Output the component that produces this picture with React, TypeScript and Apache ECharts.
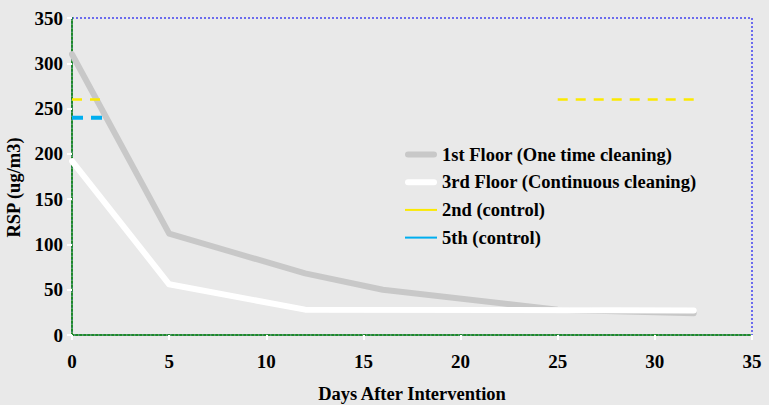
import React, { useEffect, useRef } from "react";
import * as echarts from "echarts";

// Data
const floor1Days = [0, 5, 12, 16, 25, 32];
const floor1Values = [310, 112, 68, 50, 28, 24];

const floor3Days = [0, 5, 12, 32];
const floor3Values = [192, 56, 28, 27];

// null marks a gap in the dashed control lines
const control2Days = [0, 1.6, null, 25, 32];
const control2Values = [260, 260, null, 260, 260];

const control5Days = [0, 1.6];
const control5Values = [240, 240];

const seriesNames = [
  "1st Floor (One time cleaning)",
  "3rd Floor (Continuous cleaning)",
  "2nd (control)",
  "5th (control)",
];

const xTicks = { min: 0, max: 35, interval: 5 };
const yTicks = { min: 0, max: 350, interval: 50 };

const FONT = "Times New Roman, Liberation Serif, serif";

function pairs(xs: (number | null)[], ys: (number | null)[]) {
  return xs.map((x, i) => (x === null || ys[i] === null ? ["-", "-"] : [x, ys[i]]));
}

const thickIcon = "path://M3,0h26a3,3 0 0 1 0,6h-26a3,3 0 0 1 0,-6z";
const thinIcon = "path://M0,0h32v2h-32z";

export default function App() {
  const ref = useRef<HTMLDivElement>(null);

  useEffect(() => {
    if (!ref.current) return;
    const chart = echarts.init(ref.current, null, { renderer: "svg" });
    const labelStyle = {
      fontFamily: FONT,
      fontWeight: "bold" as const,
      fontSize: 18.5,
      color: "#000",
    };
    const tickLabelStyle = { ...labelStyle, fontSize: 19 };
    chart.setOption({
      animation: false,
      backgroundColor: "#e9e9e9",
      textStyle: { fontFamily: FONT },
      grid: {
        left: 72,
        right: 17,
        top: 18,
        bottom: 70,
        outerBoundsMode: "none",
        containLabel: false,
        show: true,
        backgroundColor: "transparent",
        borderColor: "#6b6bee",
        borderWidth: 2,
        borderType: "dotted",
      },
      legend: {
        orient: "vertical",
        left: 405,
        top: 145,
        padding: 0,
        itemWidth: 32,
        itemHeight: 18,
        itemGap: 8.7,
        textStyle: labelStyle,
        data: [
          { name: seriesNames[0], icon: thickIcon },
          { name: seriesNames[1], icon: thickIcon },
          { name: seriesNames[2], icon: thinIcon },
          { name: seriesNames[3], icon: thinIcon },
        ],
      },
      xAxis: {
        type: "value",
        min: xTicks.min,
        max: xTicks.max,
        interval: xTicks.interval,
        name: "Days After Intervention",
        nameLocation: "middle",
        nameGap: 49,
        nameTextStyle: labelStyle,
        axisLine: {
          show: true,
          lineStyle: { color: "#1f8a2a", width: 2, type: "dotted" },
        },
        axisTick: {
          show: true,
          length: 5,
          lineStyle: { color: "#ffffff", width: 2 },
        },
        axisLabel: { ...tickLabelStyle, margin: 17 },
        splitLine: { show: false },
      },
      yAxis: {
        type: "value",
        min: yTicks.min,
        max: yTicks.max,
        interval: yTicks.interval,
        name: "RSP (ug/m3)",
        nameLocation: "middle",
        nameGap: 37,
        nameTextStyle: { ...labelStyle, padding: [0, 22, 0, 0] },
        axisLine: {
          show: true,
          lineStyle: { color: "#1f8a2a", width: 2, type: "dotted" },
        },
        axisTick: {
          show: true,
          length: 5,
          lineStyle: { color: "#ffffff", width: 2 },
        },
        axisLabel: { ...tickLabelStyle, margin: 9 },
        splitLine: { show: false },
      },
      series: [
        {
          name: seriesNames[0],
          type: "line",
          symbol: "none",
          data: pairs(floor1Days, floor1Values),
          lineStyle: { color: "#c8c8c8", width: 6, cap: "round", join: "round" },
          itemStyle: { color: "#c8c8c8" },
          z: 2,
        },
        {
          name: seriesNames[1],
          type: "line",
          symbol: "none",
          data: pairs(floor3Days, floor3Values),
          lineStyle: { color: "#ffffff", width: 6, cap: "round", join: "round" },
          itemStyle: { color: "#ffffff" },
          z: 3,
        },
        {
          name: seriesNames[2],
          type: "line",
          symbol: "none",
          connectNulls: false,
          data: pairs(control2Days, control2Values),
          lineStyle: { color: "#fbe900", width: 2.5, type: [10, 8] },
          itemStyle: { color: "#fbe900" },
          z: 4,
        },
        {
          name: seriesNames[3],
          type: "line",
          symbol: "none",
          data: pairs(control5Days, control5Values),
          lineStyle: { color: "#00aeef", width: 4, type: [11, 8] },
          itemStyle: { color: "#00aeef" },
          z: 4,
        },
      ],
    });
    return () => chart.dispose();
  }, []);

  return (
    <div
      ref={ref}
      style={{ position: "fixed", left: 0, top: 0, width: 769, height: 405 }}
    />
  );
}
